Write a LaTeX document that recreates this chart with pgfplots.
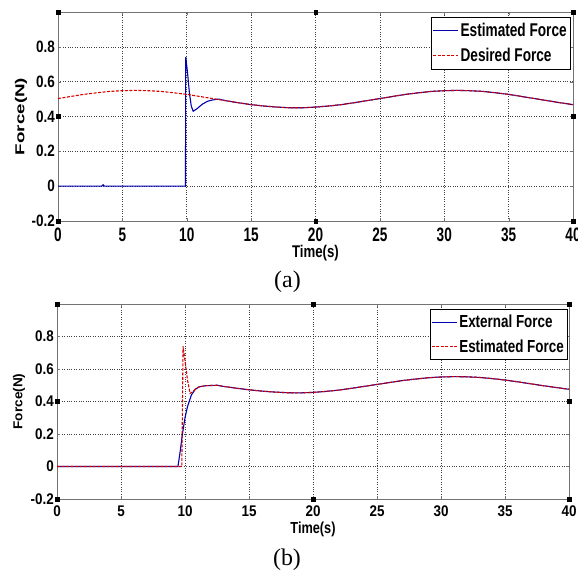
\documentclass[border=0pt]{standalone}
\usepackage{fontspec}
\setmainfont{Liberation Serif}
\setsansfont{Liberation Sans}
\usepackage{pgfplots}
\pgfplotsset{compat=1.18}

% the reference figure is squeezed sideways, so the labels are stretched fonts
\newfontfamily\sxa{Liberation Sans}[FakeStretch=0.70]
\newfontfamily\sya{Liberation Sans}[FakeStretch=0.82]
\newfontfamily\sla{Liberation Sans}[FakeStretch=0.78]
\newfontfamily\sga{Liberation Sans}[FakeStretch=0.74]
\newfontfamily\sxb{Liberation Sans}[FakeStretch=0.87]
\newfontfamily\slb{Liberation Sans}[FakeStretch=0.80]
\newfontfamily\sgb{Liberation Sans}[FakeStretch=0.77]

\pgfplotsset{
  forceax/.style={
    scale only axis,
    anchor=south west,
    clip=false,
    xmin=0, xmax=40, ymin=-0.2, ymax=1,
    xtick={0,5,...,40},
    ytick={-0.2,0,0.2,0.4,0.6,0.8},
    grid=major,
    major grid style={black!75, dotted, line width=0.6pt},
    axis line style={black!55, line width=0.6pt},
    tick style={black!55},
    tick align=inside,
    major tick length=3bp,
    ticklabel style={/pgf/number format/assume math mode=true,
      /pgf/number format/fixed, inner sep=0pt},
    xlabel={Time(s)},
    legend cell align=left,
    legend style={anchor=north east, draw=black,
      inner xsep=1bp, inner ysep=1bp},
  },
  handles/.style={only marks, mark=square*, mark size=1.8bp, black, forget plot},
  blueln/.style={blue!70!black, line width=1.1pt,
    legend image code/.code={\draw[blue!70!black, line width=1.1pt] (0bp,0bp) -- (25bp,0bp);}},
  redln/.style={red!85!black, line width=1.1pt, dash pattern=on 3bp off 1.5bp,
    legend image code/.code={\draw[red!85!black, line width=1.1pt,
      dash pattern=on 3bp off 1.5bp] (0bp,0bp) -- (25bp,0bp);}},
}

\begin{document}
\begin{tikzpicture}[x=1bp,y=1bp]
\useasboundingbox (0,0) rectangle (578,571);

% (a)
\begin{axis}[forceax, at={(58bp,350bp)}, width=515bp, height=209bp,
  ylabel={\scalebox{1.45}[1]{Force(N)}},
  xticklabel style={font=\fontsize{19.5}{20}\sxa\bfseries, anchor=center, yshift=-13.7bp},
  yticklabel style={font=\fontsize{16.5}{17}\sya\bfseries, anchor=east, xshift=-3bp},
  xlabel style={font=\fontsize{17}{18}\sla\bfseries, at={(axis description cs:0.5,0)},
    anchor=center, yshift=-31.7bp},
  ylabel style={font=\fontsize{13}{14}\sffamily\bfseries,
    at={(axis description cs:-0.072,0.5)}, anchor=center},
  legend style={at={(0.994,0.976)},
    font=\fontsize{18.5}{20}\sga\bfseries, nodes={inner ysep=5bp}},
]
\addplot[blueln] coordinates {
  (0,0) (3.4,0) (3.5,0.008) (3.6,0) (9.9,0) (9.92,0.74) (10.05,0.66)
  (10.2,0.54) (10.35,0.46) (10.5,0.43) (10.8,0.445) (11.2,0.47)
  (11.6,0.487) (12,0.495) (12.5,0.50) (13,0.491) (14,0.479) (15,0.468)
  (16,0.460) (17,0.454) (18,0.450) (19,0.450) (20,0.454) (21,0.460)
  (22,0.468) (23,0.479) (24,0.491) (25,0.503) (26,0.515) (27,0.527)
  (28,0.536) (29,0.544) (30,0.548) (31,0.550) (32,0.548) (33,0.544)
  (34,0.536) (35,0.527) (36,0.515) (37,0.503) (38,0.491) (39,0.479)
  (40,0.468)
};
\addlegendentry{Estimated Force}
\addplot[redln] coordinates {
  (0,0.503) (1,0.515) (2,0.527) (3,0.536) (4,0.544) (5,0.548) (6,0.550)
  (7,0.548) (8,0.544) (9,0.536) (10,0.527) (11,0.515) (12,0.503)
  (13,0.491) (14,0.479) (15,0.468) (16,0.460) (17,0.454) (18,0.450)
  (19,0.450) (20,0.454) (21,0.460) (22,0.468) (23,0.479) (24,0.491)
  (25,0.503) (26,0.515) (27,0.527) (28,0.536) (29,0.544) (30,0.548)
  (31,0.550) (32,0.548) (33,0.544) (34,0.536) (35,0.527) (36,0.515)
  (37,0.503) (38,0.491) (39,0.479) (40,0.468)
};
\addlegendentry{Desired Force}
\addplot[handles] coordinates {
  (0,1) (20,1) (40,1) (0,0.4) (40,0.4) (0,-0.2) (20,-0.2) (40,-0.2)
};
\end{axis}

% (b)
\begin{axis}[forceax, at={(57bp,72bp)}, width=512bp, height=195bp,
  ylabel={\scalebox{1.05}[1]{Force(N)}},
  xticklabel style={font=\fontsize{15.5}{16}\sxb\bfseries, anchor=center, yshift=-12.5bp},
  yticklabel style={font=\fontsize{15.5}{16}\sxb\bfseries, anchor=east, xshift=-3bp},
  xlabel style={font=\fontsize{16}{17}\slb\bfseries, at={(axis description cs:0.5,0)},
    anchor=center, yshift=-30.5bp},
  ylabel style={font=\fontsize{13}{14}\sffamily\bfseries,
    at={(axis description cs:-0.074,0.5)}, anchor=center},
  legend style={at={(0.996,0.974)},
    font=\fontsize{17.5}{19}\sgb\bfseries, nodes={inner ysep=5bp}},
]
\addplot[blueln] coordinates {
  (0,0) (9.45,0) (9.6,0.08) (9.8,0.2) (10,0.3) (10.2,0.37) (10.5,0.44)
  (10.8,0.475) (11.1,0.49) (11.6,0.497) (12.5,0.50) (13,0.493) (14,0.482)
  (15,0.472) (16,0.464) (17,0.458) (18,0.454) (19,0.453) (20,0.456)
  (21,0.462) (22,0.470) (23,0.481) (24,0.493) (25,0.505) (26,0.517)
  (27,0.529) (28,0.538) (29,0.546) (30,0.551) (31,0.553) (32,0.552)
  (33,0.548) (34,0.541) (35,0.532) (36,0.521) (37,0.509) (38,0.497)
  (39,0.486) (40,0.475)
};
\addlegendentry{External Force}
\addplot[redln] coordinates {
  (0,0) (9.75,0) (9.85,0.74) (10.0,0.65) (10.2,0.53) (10.4,0.45)
  (10.6,0.46) (10.8,0.475) (11.1,0.49) (11.6,0.497) (12.5,0.50)
  (13,0.493) (14,0.482) (15,0.472) (16,0.464) (17,0.458) (18,0.454)
  (19,0.453) (20,0.456) (21,0.462) (22,0.470) (23,0.481) (24,0.493)
  (25,0.505) (26,0.517) (27,0.529) (28,0.538) (29,0.546) (30,0.551)
  (31,0.553) (32,0.552) (33,0.548) (34,0.541) (35,0.532) (36,0.521)
  (37,0.509) (38,0.497) (39,0.486) (40,0.475)
};
\addlegendentry{Estimated Force}
\addplot[handles] coordinates {
  (0,1) (20,1) (40,1) (0,0.4) (40,0.4) (0,-0.2) (20,-0.2) (40,-0.2)
};
\end{axis}

\node[font=\fontsize{24}{26}\selectfont\rmfamily] at (287.5,289) {(a)};
\node[font=\fontsize{24}{26}\selectfont\rmfamily] at (287,11) {(b)};
\end{tikzpicture}
\end{document}
